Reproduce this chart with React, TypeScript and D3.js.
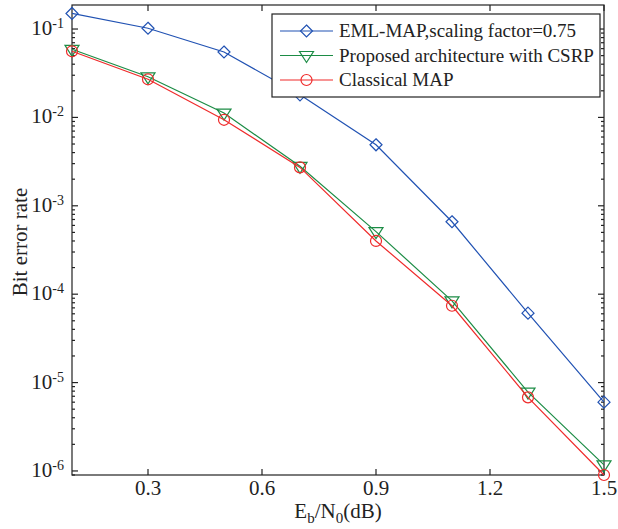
import React, { useEffect, useRef } from 'react';
import * as d3 from 'd3';

// Eb/N0 values (dB)
const snr = [0.1, 0.3, 0.5, 0.7, 0.9, 1.1, 1.3, 1.5];
// bit error rates
const emlMap = [0.15, 0.102, 0.055, 0.018, 0.0049, 0.00066, 0.000061, 0.000006];
const proposed = [0.059, 0.0288, 0.0112, 0.0028, 0.00051, 0.000084, 0.0000078, 0.00000117];
const classical = [0.056, 0.027, 0.0094, 0.00272, 0.0004, 0.000074, 0.0000068, 0.0000009];
const seriesNames = ['EML-MAP,scaling factor=0.75', 'Proposed architecture with CSRP', 'Classical MAP'];
const xTicks = [0.3, 0.6, 0.9, 1.2, 1.5];
const yExponents = [-1, -2, -3, -4, -5, -6];

const App = () => {
    const ref = useRef<SVGSVGElement>(null);
    const width = 618;
    const height = 529;
    const margin = { top: 5, right: 14, bottom: 54, left: 72 };
    const font = "'Liberation Serif', 'Times New Roman', serif";

    useEffect(() => {
        const svg = d3.select(ref.current);
        svg.selectAll('*').remove();

        const x = d3.scaleLinear()
            .domain([0.1, 1.5])
            .range([margin.left, width - margin.right]);
        const y = d3.scaleLog()
            .domain([9.0e-7, 0.187])
            .range([height - margin.bottom, margin.top]);

        const x0 = x.range()[0];
        const x1 = x.range()[1];
        const y0 = y.range()[0];
        const y1 = y.range()[1];

        const axes = svg.append('g').attr('stroke', '#222').attr('stroke-width', 1.2);

        // x ticks, bottom and top (inward)
        xTicks.forEach((t) => {
            axes.append('line').attr('x1', x(t)).attr('x2', x(t)).attr('y1', y0).attr('y2', y0 - 6);
            axes.append('line').attr('x1', x(t)).attr('x2', x(t)).attr('y1', y1).attr('y2', y1 + 6);
        });

        // log ticks, left and right
        for (let e = -7; e <= 0; e++) {
            for (let m = 1; m <= 9; m++) {
                const v = m * 10 ** e;
                if (v < y.domain()[0] || v > y.domain()[1]) continue;
                const len = m === 1 ? 6 : 3;
                axes.append('line').attr('x1', x0).attr('x2', x0 + len).attr('y1', y(v)).attr('y2', y(v));
                axes.append('line').attr('x1', x1).attr('x2', x1 - len).attr('y1', y(v)).attr('y2', y(v));
            }
        }

        axes.append('rect')
            .attr('x', x0).attr('y', y1)
            .attr('width', x1 - x0).attr('height', y0 - y1)
            .attr('fill', 'none');

        // x tick labels
        svg.append('g')
            .selectAll('text')
            .data(xTicks)
            .enter()
            .append('text')
            .attr('x', (d) => x(d))
            .attr('y', y0 + 20)
            .attr('text-anchor', 'middle')
            .attr('font-family', font)
            .attr('font-size', 21)
            .attr('fill', '#222')
            .text((d) => d3.format('.1f')(d));

        // y tick labels 10^k
        yExponents.forEach((e) => {
            const t = svg.append('text')
                .attr('x', 64)
                .attr('y', y(10 ** e) + 6)
                .attr('text-anchor', 'end')
                .attr('font-family', font)
                .attr('font-size', 21)
                .attr('fill', '#222');
            t.append('tspan').text('10');
            t.append('tspan').attr('dy', -7).attr('font-size', 14).text(`-${-e}`);
        });

        // axis titles
        const xl = svg.append('text')
            .attr('x', (x0 + x1) / 2)
            .attr('y', 518)
            .attr('text-anchor', 'middle')
            .attr('font-family', font)
            .attr('font-size', 21)
            .attr('fill', '#222');
        xl.append('tspan').text('E');
        xl.append('tspan').attr('dy', 5).attr('font-size', 15).text('b');
        xl.append('tspan').attr('dy', -5).text('/N');
        xl.append('tspan').attr('dy', 5).attr('font-size', 15).text('0');
        xl.append('tspan').attr('dy', -5).text('(dB)');

        svg.append('text')
            .attr('transform', `translate(27,${(y0 + y1) / 2 + 2}) rotate(-90)`)
            .attr('text-anchor', 'middle')
            .attr('font-family', font)
            .attr('font-size', 21)
            .attr('fill', '#222')
            .text('Bit error rate');

        const colors = ['#2152b3', '#1c8c45', '#ef2b2b'];
        const allSeries = [emlMap, proposed, classical];

        const drawMarker = (g, i, cx, cy) => {
            if (i === 0) {
                g.append('path')
                    .attr('d', `M${cx},${cy - 6}L${cx + 6},${cy}L${cx},${cy + 6}L${cx - 6},${cy}Z`)
                    .attr('fill', 'none').attr('stroke', colors[i]).attr('stroke-width', 1.2);
            } else if (i === 1) {
                g.append('path')
                    .attr('d', `M${cx - 7},${cy - 4}L${cx + 7},${cy - 4}L${cx},${cy + 7}Z`)
                    .attr('fill', 'none').attr('stroke', colors[i]).attr('stroke-width', 1.2);
            } else {
                g.append('circle')
                    .attr('cx', cx).attr('cy', cy).attr('r', 5.5)
                    .attr('fill', 'none').attr('stroke', colors[i]).attr('stroke-width', 1.2);
            }
        };

        const line = d3.line<number>()
            .x((d, i) => x(snr[i]))
            .y((d) => y(d));

        allSeries.forEach((s, i) => {
            const g = svg.append('g');
            g.append('path')
                .attr('d', line(s))
                .attr('fill', 'none')
                .attr('stroke', colors[i])
                .attr('stroke-width', 1.2);
            s.forEach((v, j) => drawMarker(g, i, x(snr[j]), y(v)));
        });

        // legend
        const legend = svg.append('g');
        legend.append('rect')
            .attr('x', 272).attr('y', 14)
            .attr('width', 328).attr('height', 83)
            .attr('fill', '#fff')
            .attr('stroke', '#222')
            .attr('stroke-width', 1.2);
        seriesNames.forEach((name, i) => {
            const ly = 31 + i * 24.5;
            legend.append('line')
                .attr('x1', 280).attr('x2', 333)
                .attr('y1', ly).attr('y2', ly)
                .attr('stroke', colors[i]).attr('stroke-width', 1.2);
            drawMarker(legend, i, 306.5, ly);
            legend.append('text')
                .attr('x', 339)
                .attr('y', ly + 6)
                .attr('font-family', font)
                .attr('font-size', 19)
                .attr('fill', '#222')
                .text(name);
        });
    }, []);

    return (
        <svg
            ref={ref}
            width={width}
            height={height}
            style={{ position: 'absolute', left: 0, top: 0, background: '#fff' }}
        />
    );
};

export default App;
